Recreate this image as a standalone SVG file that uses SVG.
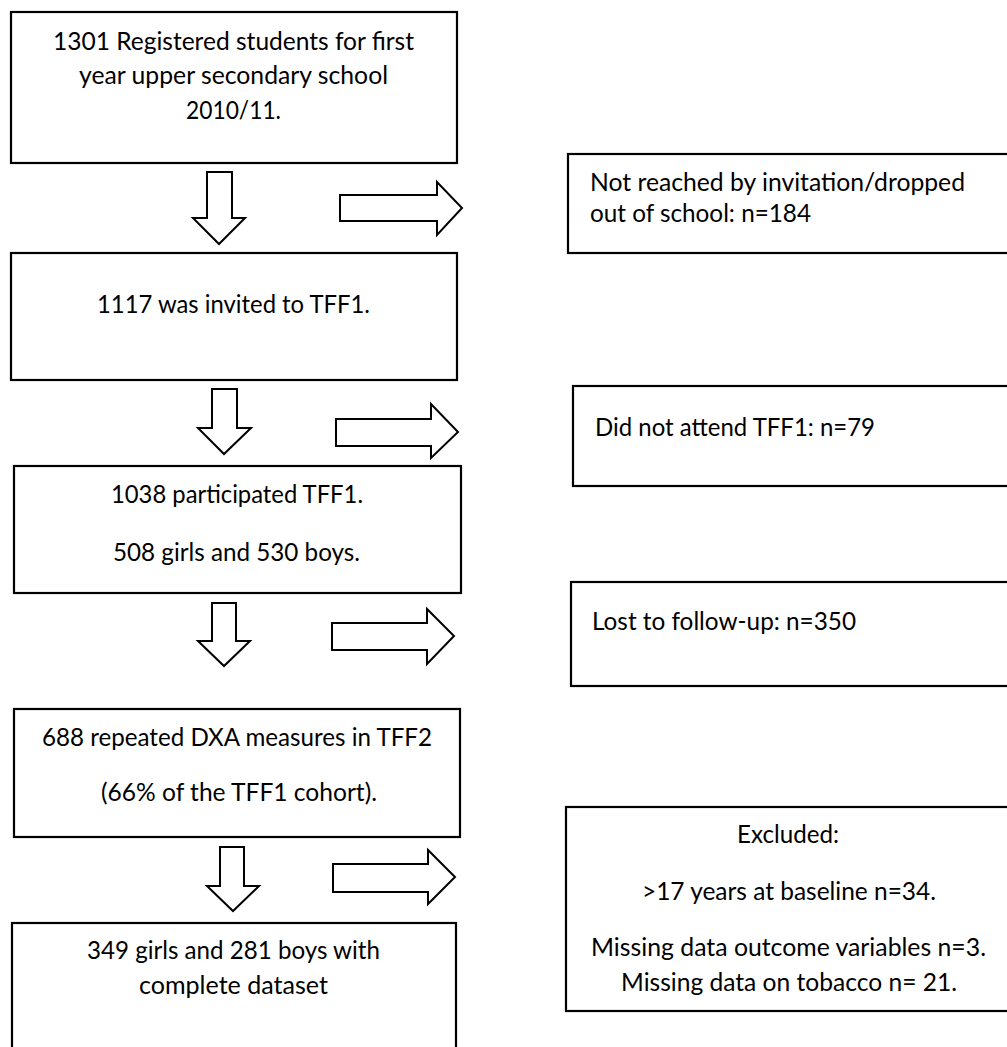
<svg xmlns="http://www.w3.org/2000/svg" width="1007" height="1047" viewBox="0 0 1007 1047">
<style>
.box{fill:#fff;stroke:#000;stroke-width:2.2}
.arr{fill:#fff;stroke:#000;stroke-width:2;stroke-linejoin:miter}
text{font-family:Lato,"Open Sans","Liberation Sans",sans-serif;font-size:25.5px;fill:#000}
.c{text-anchor:middle}
</style>
<rect width="1007" height="1047" fill="#fff"/>
<g id="connectors">
<path class="arr" d="M207,172 H232 V218 H245 L219,244 L193,218 H207 Z"/>
<path class="arr" d="M340,195 H437 V182 L462,208 L437,235 V221 H340 Z"/>
<path class="arr" d="M212,389 H237 V428 H251 L224,454 L198,428 H212 Z"/>
<path class="arr" d="M336,419 H431 V404 L458,432 L431,458 V446 H336 Z"/>
<path class="arr" d="M212,603 H236 V641 H250 L224,666 L198,641 H212 Z"/>
<path class="arr" d="M332,623 H427 V609 L454,636 L427,664 V650 H332 Z"/>
<path class="arr" d="M220,847 H244 V886 H259 L233,911 L207,886 H220 Z"/>
<path class="arr" d="M333,864 H428 V850 L455,877 L428,904 V892 H333 Z"/>
</g>
<g id="n1">
<rect class="box" x="11" y="12" width="446" height="151"/>
<text class="c" x="233.5" y="50" textLength="361" lengthAdjust="spacingAndGlyphs">1301 Registered students for first</text>
<text class="c" x="233.5" y="84" textLength="309" lengthAdjust="spacingAndGlyphs">year upper secondary school</text>
<text class="c" x="233.5" y="119" textLength="95" lengthAdjust="spacingAndGlyphs">2010/11.</text>
</g>
<g id="n2">
<rect class="box" x="11" y="253" width="446" height="127"/>
<text class="c" x="233.5" y="313" textLength="273" lengthAdjust="spacingAndGlyphs">1117 was invited to TFF1.</text>
</g>
<g id="n3">
<rect class="box" x="14" y="466" width="447" height="127"/>
<text class="c" x="237" y="503" textLength="252" lengthAdjust="spacingAndGlyphs">1038 participated TFF1.</text>
<text class="c" x="236.5" y="561" textLength="247" lengthAdjust="spacingAndGlyphs">508 girls and 530 boys.</text>
</g>
<g id="n4">
<rect class="box" x="14" y="709" width="446" height="128"/>
<text class="c" x="237" y="746" textLength="390" lengthAdjust="spacingAndGlyphs">688 repeated DXA measures in TFF2</text>
<text class="c" x="239" y="801" textLength="276" lengthAdjust="spacingAndGlyphs">(66% of the TFF1 cohort).</text>
</g>
<g id="n5">
<rect class="box" x="12" y="923" width="444" height="140"/>
<text class="c" x="233.5" y="959" textLength="293" lengthAdjust="spacingAndGlyphs">349 girls and 281 boys with</text>
<text class="c" x="233.5" y="994" textLength="189" lengthAdjust="spacingAndGlyphs">complete dataset</text>
</g>
<g id="e1">
<rect class="box" x="568" y="154" width="450" height="99"/>
<text x="590" y="191" textLength="375" lengthAdjust="spacingAndGlyphs">Not reached by invitation/dropped</text>
<text x="590" y="222" textLength="221" lengthAdjust="spacingAndGlyphs">out of school: n=184</text>
</g>
<g id="e2">
<rect class="box" x="573" y="386" width="450" height="100"/>
<text x="595" y="436" textLength="280" lengthAdjust="spacingAndGlyphs">Did not attend TFF1: n=79</text>
</g>
<g id="e3">
<rect class="box" x="571" y="582" width="450" height="104"/>
<text x="592" y="630" textLength="264" lengthAdjust="spacingAndGlyphs">Lost to follow-up: n=350</text>
</g>
<g id="e4">
<rect class="box" x="566" y="807" width="450" height="204"/>
<text class="c" x="788" y="843" textLength="102" lengthAdjust="spacingAndGlyphs">Excluded:</text>
<text class="c" x="789" y="900" textLength="294" lengthAdjust="spacingAndGlyphs">&gt;17 years at baseline n=34.</text>
<text class="c" x="788.5" y="956" textLength="395" lengthAdjust="spacingAndGlyphs">Missing data outcome variables n=3.</text>
<text class="c" x="789" y="991" textLength="336" lengthAdjust="spacingAndGlyphs">Missing data on tobacco n= 21.</text>
</g>
</svg>
